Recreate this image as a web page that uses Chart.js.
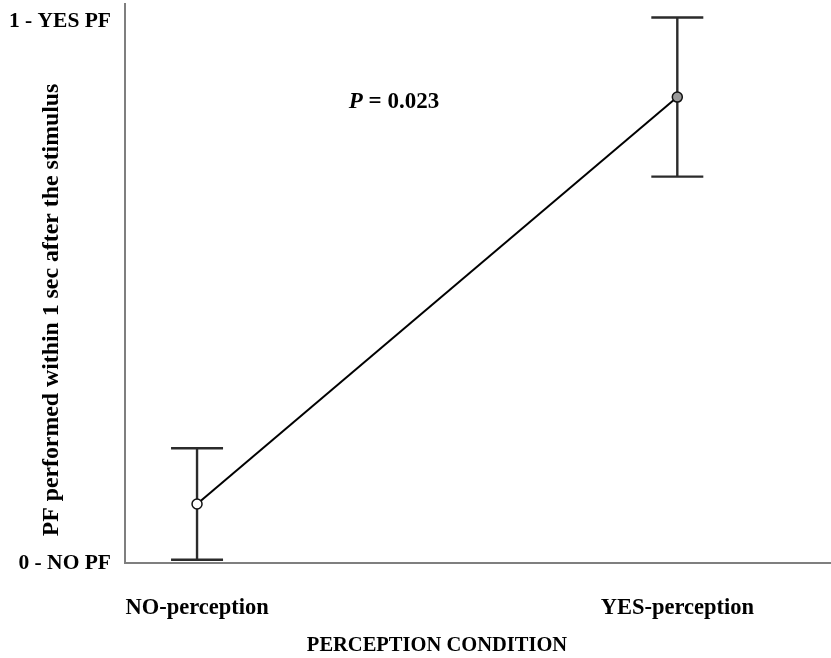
<!DOCTYPE html>
<html>
<head>
<meta charset="utf-8">
<script src="https://cdn.jsdelivr.net/npm/chart.js@4/dist/chart.umd.min.js"></script>
<style>
html,body{margin:0;padding:0;background:#fff;}
#wrap{width:831px;height:658px;position:relative;}
</style>
</head>
<body>
<div id="wrap"><canvas id="c" width="831" height="658"></canvas></div>
<script>
// ---- data ----
const categories = ['NO-perception', 'YES-perception'];
const categoryX = [0, 1];
const meanValues = [0.109, 0.861];
const errorValues = [0.103, 0.147];
const yTickValues = [0, 1];
const yTickLabels = ['0 - NO PF', '1 - YES PF'];
const xTitle = 'PERCEPTION CONDITION';
const yTitle = 'PF performed within 1 sec after the stimulus';
const pLabelItalic = 'P';
const pLabelRest = ' = 0.023';
const pLabelAt = [0.41, 0.852];

const FONT = '"Liberation Serif", "Times New Roman", serif';

const errorBarPlugin = {
  id: 'errorBars',
  beforeDatasetsDraw(chart) {
    const ctx = chart.ctx;
    const xs = chart.scales.x, ys = chart.scales.y;
    ctx.save();
    ctx.strokeStyle = '#2b2b2b';
    ctx.lineWidth = 2.4;
    for (let i = 0; i < meanValues.length; i++) {
      const px = xs.getPixelForValue(categoryX[i]);
      const top = ys.getPixelForValue(meanValues[i] + errorValues[i]);
      const bot = ys.getPixelForValue(meanValues[i] - errorValues[i]);
      ctx.beginPath();
      ctx.moveTo(px, top); ctx.lineTo(px, bot);
      ctx.moveTo(px - 26, top); ctx.lineTo(px + 26, top);
      ctx.moveTo(px - 26, bot); ctx.lineTo(px + 26, bot);
      ctx.stroke();
    }
    ctx.restore();
  },
  afterDraw(chart) {
    const ctx = chart.ctx;
    const xs = chart.scales.x, ys = chart.scales.y;
    ctx.save();
    // annotation
    const ax = xs.getPixelForValue(pLabelAt[0]);
    const ay = ys.getPixelForValue(pLabelAt[1]);
    ctx.fillStyle = '#000';
    ctx.textBaseline = 'middle';
    ctx.font = 'italic bold 23px ' + FONT;
    const w1 = ctx.measureText(pLabelItalic).width;
    ctx.font = 'bold 23px ' + FONT;
    const w2 = ctx.measureText(pLabelRest).width;
    let sx = ax - (w1 + w2) / 2;
    ctx.font = 'italic bold 23px ' + FONT;
    ctx.textAlign = 'left';
    ctx.fillText(pLabelItalic, sx, ay);
    ctx.font = 'bold 23px ' + FONT;
    ctx.fillText(pLabelRest, sx + w1, ay);
    // x title
    ctx.textAlign = 'center';
    ctx.font = 'bold 20.5px ' + FONT;
    ctx.fillText(xTitle, 437, 646);
    // y title
    ctx.translate(52, 310);
    ctx.rotate(-Math.PI / 2);
    ctx.font = 'bold 23.8px ' + FONT;
    ctx.fillText(yTitle, 0, 0);
    ctx.restore();
  }
};

new Chart(document.getElementById('c'), {
  type: 'line',
  data: {
    datasets: [{
      data: categoryX.map((x, i) => ({x: x, y: meanValues[i]})),
      borderColor: '#000',
      borderWidth: 2,
      pointRadius: 5,
      pointBorderWidth: 1.5,
      pointBorderColor: '#111',
      pointBackgroundColor: ['#ffffff', '#9a9a9a'],
      tension: 0,
      clip: false
    }]
  },
  options: {
    responsive: false,
    animation: false,
    devicePixelRatio: 1,
    layout: {autoPadding: false, padding: {top: 4, right: 0, bottom: 2, left: 0}},
    plugins: {legend: {display: false}, tooltip: {enabled: false}},
    scales: {
      x: {
        type: 'linear',
        min: -0.15,
        max: 1.32,
        afterBuildTicks(s) { s.ticks = categoryX.map(v => ({value: v})); },
        afterFit(s) { s.height = 93; s.paddingLeft = 0; s.paddingRight = 0; },
        grid: {display: false, drawTicks: false},
        border: {display: true, color: '#7f7f7f', width: 2},
        ticks: {
          padding: 32,
          color: '#000',
          font: {family: FONT, size: 22.5, weight: 'bold'},
          callback: (v) => categories[categoryX.indexOf(v)] ?? ''
        }
      },
      y: {
        type: 'linear',
        min: 0,
        max: 1.033,
        afterBuildTicks(s) { s.ticks = yTickValues.map(v => ({value: v})); },
        afterFit(s) { s.width = 125; s.paddingTop = 0; s.paddingBottom = 0; },
        grid: {display: false, drawTicks: false},
        border: {display: true, color: '#7f7f7f', width: 2},
        ticks: {
          padding: 14,
          color: '#000',
          font: {family: FONT, size: 21.5, weight: 'bold'},
          callback: (v) => yTickLabels[yTickValues.indexOf(v)] ?? ''
        }
      }
    }
  },
  plugins: [errorBarPlugin]
});
</script>
</body>
</html>
